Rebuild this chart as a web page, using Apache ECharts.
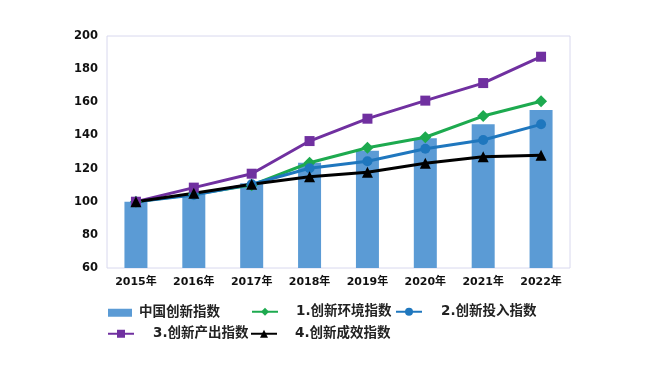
<!DOCTYPE html>
<html><head><meta charset="utf-8">
<script src="https://cdn.jsdelivr.net/npm/echarts@6/dist/echarts.min.js"></script>
<style>html,body{margin:0;padding:0;background:#fff}#c{width:665px;height:365px}</style>
</head><body><div id="c"></div>
<script>
const categories = ['2015年','2016年','2017年','2018年','2019年','2020年','2021年','2022年'];
const chinaIndex = [100, 104.7, 111.1, 123.5, 130.8, 138.3, 146.7, 155.4];
const envIndex   = [100, 104.5, 110.0, 123.5, 132.6, 138.9, 151.7, 160.6];
const inputIndex = [100, 104.0, 110.5, 120.2, 124.4, 132.0, 137.2, 146.7];
const outputIndex= [100, 108.5, 116.9, 136.6, 150.1, 161.0, 171.6, 187.5];
const effectIndex= [100, 105.1, 110.5, 115.1, 117.8, 123.2, 127.2, 128.0];
const names = ['中国创新指数','1.创新环境指数','2.创新投入指数','3.创新产出指数','4.创新成效指数'];

const FONT = 'DejaVu Sans, "Noto Sans CJK SC", sans-serif';
const chart = echarts.init(document.getElementById('c'));
function lg(name, left, top, pad, iw, icon) {
  const o = {
    data: [name], left: left, top: top, itemWidth: iw, itemHeight: icon ? 8 : 10, padding: 0,
    textStyle: {fontFamily: FONT, fontSize: 13.5, fontWeight: 'bold', color: '#222', padding: [0,0,0,pad]}
  };
  if (icon) o.icon = icon;
  return o;
}
function line(name, data, color, symbol, size) {
  return {
    name: name, type: 'line', data: data, symbol: symbol, symbolSize: size,
    itemStyle: {color: color}, lineStyle: {color: color, width: 3}, z: 3
  };
}
chart.setOption({
  animation: false,
  backgroundColor: '#fff',
  grid: {left: 107, right: 95, top: 36, bottom: 97, show: true, borderColor: '#D8D8EE', borderWidth: 1},
  legend: [
    lg(names[0], 108, 306, 2, 24, 'rect'),
    lg(names[1], 251, 305, 13, 26),
    lg(names[2], 395, 305, 14, 26),
    lg(names[3], 107, 327, 14, 26),
    lg(names[4], 250, 327, 13, 26)
  ],
  xAxis: {
    type: 'category', data: categories,
    axisLine: {show: false}, axisTick: {show: false},
    axisLabel: {fontFamily: FONT, fontSize: 11, fontWeight: 'bold', color: '#111', margin: 9}
  },
  yAxis: {
    type: 'value', min: 60, max: 200, interval: 20,
    splitLine: {show: false}, axisLine: {show: false}, axisTick: {show: false},
    axisLabel: {fontFamily: FONT, fontSize: 11.5, fontWeight: 'bold', color: '#111', margin: 9}
  },
  series: [
    {name: names[0], type: 'bar', data: chinaIndex, barWidth: 23, itemStyle: {color: '#5B9BD5'}, z: 2},
    line(names[1], envIndex, '#1DAA4F', 'diamond', 12),
    line(names[2], inputIndex, '#1F77BE', 'circle', 10),
    line(names[3], outputIndex, '#7030A0', 'rect', 10),
    line(names[4], effectIndex, '#000000', 'triangle', 11)
  ]
});
</script></body></html>
